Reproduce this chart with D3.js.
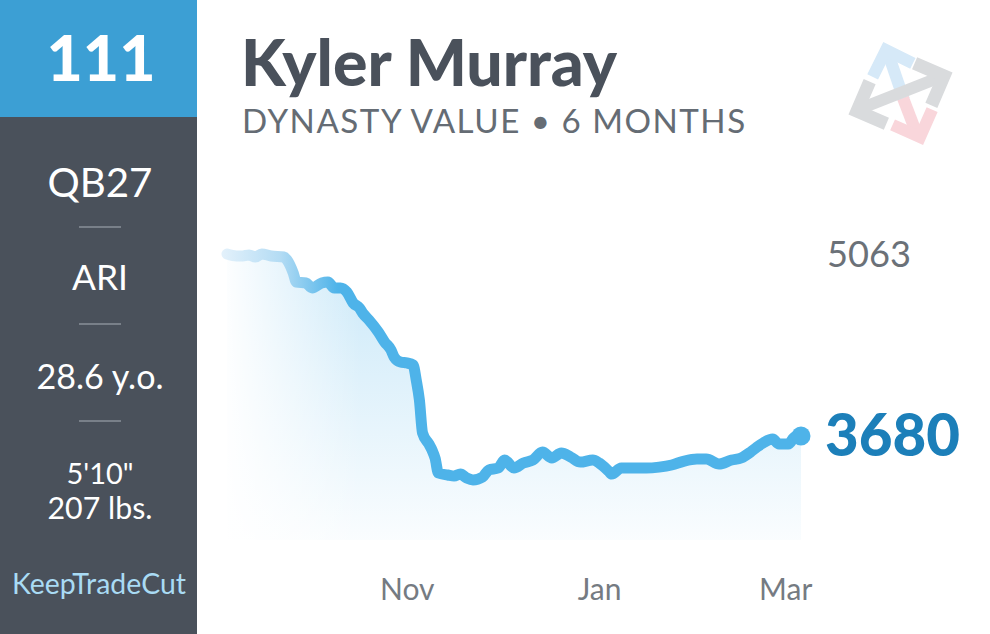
<!DOCTYPE html>
<html><head><meta charset="utf-8">
<script src="https://cdn.jsdelivr.net/npm/d3@7"></script>
<style>
html,body{margin:0;padding:0;background:#fff;}
svg{display:block;font-family:Lato,"Open Sans",sans-serif;}
</style></head>
<body>
<svg id="chart" width="990" height="634"></svg>
<script>
// ---- data ----
const dates = ["2025-09-05","2025-09-08","2025-09-10","2025-09-12","2025-09-14","2025-09-16","2025-09-19","2025-09-23","2025-09-24","2025-09-26","2025-09-27","2025-09-30",
"2025-10-02","2025-10-05","2025-10-07","2025-10-09","2025-10-11","2025-10-13","2025-10-15","2025-10-17","2025-10-18","2025-10-20","2025-10-23","2025-10-25","2025-10-27","2025-10-28","2025-10-30",
"2025-11-01","2025-11-03","2025-11-04","2025-11-05","2025-11-06","2025-11-08","2025-11-09","2025-11-10","2025-11-11","2025-11-14","2025-11-16","2025-11-18","2025-11-20","2025-11-22","2025-11-25","2025-11-27","2025-11-30",
"2025-12-02","2025-12-05","2025-12-08","2025-12-11","2025-12-14","2025-12-17","2025-12-20","2025-12-23","2025-12-26","2025-12-30",
"2026-01-01","2026-01-04","2026-01-05","2026-01-08","2026-01-12","2026-01-16","2026-01-20","2026-01-24","2026-01-28",
"2026-02-01","2026-02-04","2026-02-08","2026-02-12","2026-02-15","2026-02-18","2026-02-20","2026-02-22","2026-02-25","2026-02-27",
"2026-03-02","2026-03-04","2026-03-06"];
const values = [5063,5048,5048,5056,5040,5063,5048,5040,5018,4919,4850,4843,
4805,4843,4850,4805,4805,4774,4691,4653,4615,4562,4470,4394,4334,4280,4242,
4235,4220,4106,3954,3703,3620,3574,3510,3399,3384,3376,3391,3361,3346,3368,3422,3437,
3498,3437,3475,3498,3558,3513,3551,3520,3482,3498,
3475,3414,3391,3437,3437,3437,3444,3460,3490,
3505,3505,3467,3498,3513,3558,3596,3627,3657,3619,
3619,3672,3680];
const tickDates = ["2025-11-01","2026-01-01","2026-03-01"];
const tickLabels = ["Nov","Jan","Mar"];
const rank = "111";
const player = "Kyler Murray";
const subtitle = "DYNASTY VALUE \u2022 6 MONTHS";
const infoRows = ["QB27","ARI","28.6 y.o."];
const sizeRows = ["5'10\"","207 lbs."];
const brand = "KeepTradeCut";

// ---- setup ----
const parse = d3.timeParse("%Y-%m-%d");
const data = dates.map((d,i)=>({date:parse(d), value:values[i]}));
const svg = d3.select("#chart");
const defs = svg.append("defs");

function fit(sel, width){
  const n = sel.node();
  const fs = parseFloat(sel.attr("font-size"));
  const w = n.getComputedTextLength();
  if (w>0) sel.attr("font-size", (fs*width/w).toFixed(2));
  return sel;
}

// ---- sidebar ----
svg.append("rect").attr("x",0).attr("y",0).attr("width",197).attr("height",634).attr("fill","#4a515b");
svg.append("rect").attr("x",0).attr("y",0).attr("width",197).attr("height",117).attr("fill","#3c9fd4");
fit(svg.append("text").attr("x",101).attr("y",81).attr("text-anchor","middle").attr("font-size",60).attr("font-weight",900).attr("fill","#fff").text(rank),109);

const rowY = [197,290,389];
const rowW = [105,56,127];
infoRows.forEach((t,i)=>{
  fit(svg.append("text").attr("x",100).attr("y",rowY[i]).attr("text-anchor","middle").attr("font-size",36).attr("fill","#fff").text(t), rowW[i]);
});
[227,324,421].forEach(y=>{
  svg.append("line").attr("x1",79).attr("x2",121).attr("y1",y).attr("y2",y).attr("stroke","#8a9098").attr("stroke-width",1.5);
});
const sizeY=[484,519], sizeW=[67,105];
sizeRows.forEach((t,i)=>{
  fit(svg.append("text").attr("x",100).attr("y",sizeY[i]).attr("text-anchor","middle").attr("font-size",30).attr("fill","#fff").text(t), sizeW[i]);
});
fit(svg.append("text").attr("x",99).attr("y",594).attr("text-anchor","middle").attr("font-size",25).attr("fill","#a9dbf4").text(brand),174);

// ---- titles ----
fit(svg.append("text").attr("x",241).attr("y",86).attr("font-size",64).attr("font-weight",900).attr("fill","#4a515b").text(player),376);
fit(svg.append("text").attr("x",242).attr("y",133).attr("font-size",32).attr("letter-spacing",1.5).attr("fill","#656c74").text(subtitle),506);

// ---- logo ----
const logo = svg.append("g").attr("fill","none").attr("stroke-linejoin","miter").attr("stroke-linecap","butt");
function chevron(tip, dir, len, color, w){
  const a = Math.atan2(dir[1],dir[0]);
  const p1=[tip[0]-len*Math.cos(a+Math.PI/4), tip[1]-len*Math.sin(a+Math.PI/4)];
  const p2=[tip[0]-len*Math.cos(a-Math.PI/4), tip[1]-len*Math.sin(a-Math.PI/4)];
  logo.append("path").attr("d",`M${p1}L${tip}L${p2}`).attr("stroke",color).attr("stroke-width",w);
}
const blueC="#d6e9f8", redC="#f9d6db", grayC="#d9dbdd";
logo.append("line").attr("x1",904).attr("y1",100).attr("x2",889).attr("y2",56).attr("stroke",blueC).attr("stroke-width",12);
chevron([886,50],[-0.32,-0.95],30,blueC,12);
logo.append("line").attr("x1",903).attr("y1",98).attr("x2",916).attr("y2",132).attr("stroke",redC).attr("stroke-width",12);
chevron([920,137],[0.36,0.93],30,redC,12);
logo.append("line").attr("x1",862).attr("y1",108).attr("x2",938).attr("y2",78).attr("stroke",grayC).attr("stroke-width",12);
chevron([944,76],[0.93,-0.37],32,grayC,13);
chevron([857,111],[-0.93,0.37],32,grayC,13);

// ---- chart ----
const x = d3.scaleTime().domain(d3.extent(data,d=>d.date)).range([227,801]);
const y = d3.scaleLinear().domain(d3.extent(values)).range([480,254]);
const bottom = 540;

const areaGrad = defs.append("linearGradient").attr("id","areaGrad").attr("gradientUnits","userSpaceOnUse")
  .attr("x1",0).attr("x2",0).attr("y1",254).attr("y2",bottom);
areaGrad.append("stop").attr("offset","0%").attr("stop-color","#4eb3e9").attr("stop-opacity",0.30);
areaGrad.append("stop").attr("offset","100%").attr("stop-color","#4eb3e9").attr("stop-opacity",0.03);

const fadeGrad = defs.append("linearGradient").attr("id","fadeGrad").attr("gradientUnits","userSpaceOnUse")
  .attr("x1",227).attr("x2",360).attr("y1",0).attr("y2",0);
fadeGrad.append("stop").attr("offset","0%").attr("stop-color","#fff").attr("stop-opacity",0.95);
fadeGrad.append("stop").attr("offset","100%").attr("stop-color","#fff").attr("stop-opacity",0);

const lineGrad = defs.append("linearGradient").attr("id","lineGrad").attr("gradientUnits","userSpaceOnUse")
  .attr("x1",222).attr("x2",801).attr("y1",0).attr("y2",0);
lineGrad.append("stop").attr("offset","0%").attr("stop-color","#e3f1fb");
lineGrad.append("stop").attr("offset","10%").attr("stop-color","#b4dcf4");
lineGrad.append("stop").attr("offset","20%").attr("stop-color","#4eb3e9");
lineGrad.append("stop").attr("offset","100%").attr("stop-color","#4eb3e9");

const area = d3.area().x(d=>x(d.date)).y0(bottom).y1(d=>y(d.value)).curve(d3.curveMonotoneX);
const line = d3.line().x(d=>x(d.date)).y(d=>y(d.value)).curve(d3.curveMonotoneX);

svg.append("path").datum(data).attr("d",area).attr("fill","url(#areaGrad)");
svg.append("rect").attr("x",220).attr("y",240).attr("width",145).attr("height",bottom-240).attr("fill","url(#fadeGrad)");
svg.append("path").datum(data).attr("d",line).attr("fill","none").attr("stroke","url(#lineGrad)")
  .attr("stroke-width",11).attr("stroke-linecap","round").attr("stroke-linejoin","round");
const last = data[data.length-1];
svg.append("circle").attr("cx",x(last.date)).attr("cy",y(last.value)).attr("r",9.5).attr("fill","#4eb3e9");

// value labels
const maxV = d3.max(values);
fit(svg.append("text").attr("x",827).attr("y",y(maxV)+13).attr("font-size",36).attr("fill","#6b7178").text(String(maxV)),84);
fit(svg.append("text").attr("x",825).attr("y",y(last.value)+20).attr("font-size",54).attr("font-weight",900).attr("fill","#1c7fb9").text(String(last.value)),135);

// x axis
const axis = d3.axisBottom(x).tickValues(tickDates.map(parse)).tickFormat((d,i)=>tickLabels[i]).tickSize(0).tickPadding(0);
const ax = svg.append("g").attr("transform","translate(0,600)").call(axis);
ax.select(".domain").remove();
ax.selectAll("text").attr("dy",0).attr("font-family","Lato,sans-serif").attr("font-size",30).attr("fill","#757b82");
</script>
</body></html>
